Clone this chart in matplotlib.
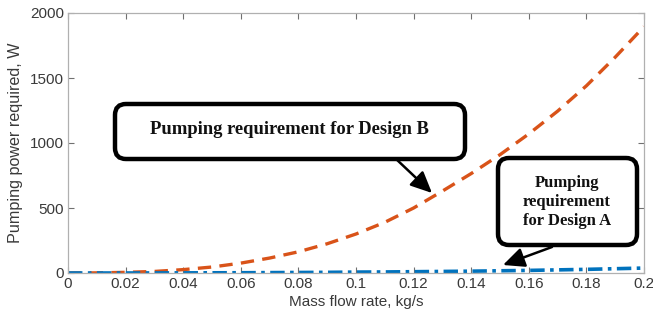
import matplotlib.pyplot as plt
from matplotlib.patches import FancyBboxPatch
from matplotlib.transforms import IdentityTransform

# data
mass_flow = [0.00, 0.01, 0.02, 0.03, 0.04, 0.05, 0.06, 0.07, 0.08, 0.09, 0.10,
             0.11, 0.12, 0.13, 0.14, 0.15, 0.16, 0.17, 0.18, 0.19, 0.20]
power_b = [0, 1, 5, 12, 26, 46, 76, 115, 163, 225, 300,
           390, 500, 630, 765, 910, 1070, 1245, 1440, 1660, 1895]
power_a = [0, 0, 0, 0.5, 1, 1.5, 2, 3, 4, 5, 7,
           8, 10, 12, 14, 17, 20, 24, 28, 33, 38]

W, H = 653, 324
fig = plt.figure(figsize=(W / 100, H / 100), dpi=100)
ax = fig.add_axes([68 / W, 1 - 273 / H, (644 - 68) / W, (273 - 13) / H])

ax.plot(mass_flow, power_b, color="#D95319", lw=2.4, ls=(0, (4, 2.5)))
ax.plot(mass_flow, power_a, color="#0072BD", lw=2.6, ls=(0, (4, 1.5, 1, 1.5)))

ax.set_xlim(0, 0.2)
ax.set_ylim(0, 2000)
ax.set_xticks([0, 0.02, 0.04, 0.06, 0.08, 0.1, 0.12, 0.14, 0.16, 0.18, 0.2])
ax.set_xticklabels(["0", "0.02", "0.04", "0.06", "0.08", "0.1", "0.12", "0.14",
                    "0.16", "0.18", "0.2"])
ax.set_yticks([0, 500, 1000, 1500, 2000])
for s in ax.spines.values():
    s.set_color("#b0b0b0")
    s.set_linewidth(0.9)
ax.tick_params(direction="in", length=4, color="#707070", labelcolor="#3a3a3a",
               labelsize=11, top=True, right=True, pad=3)
for lab in ax.get_xticklabels() + ax.get_yticklabels():
    lab.set_family("Liberation Sans")
ax.set_xlabel("Mass flow rate, kg/s", fontsize=11, color="#3a3a3a",
              family="Liberation Sans", labelpad=3)
ax.set_ylabel("Pumping power required, W", fontsize=11.6, color="#3a3a3a",
              family="Liberation Sans", labelpad=5)


# callout boxes, in image pixels (y measured from top)
def box(x0, y0, x1, y1):
    p = FancyBboxPatch((x0, H - y1), x1 - x0, y1 - y0,
                       boxstyle="round,pad=0,rounding_size=11",
                       transform=IdentityTransform(), fc="white", ec="black",
                       lw=3.2, zorder=5)
    fig.patches.append(p)


def arrow(x0, y0, x1, y1):
    ax.annotate("", xy=(x1, H - y1), xytext=(x0, H - y0),
                xycoords="figure pixels", textcoords="figure pixels",
                arrowprops=dict(arrowstyle="-|>,head_length=1.3,head_width=0.6",
                                color="black", lw=1.8, shrinkA=0, shrinkB=0),
                zorder=6)


box(115, 104, 465, 159)
fig.text(289 / W, 1 - 129 / H, "Pumping requirement for Design B",
         ha="center", va="center", family="Liberation Serif", weight="bold",
         fontsize=13.4, color="#111111", zorder=7)
arrow(395, 158, 432, 193)

box(498, 158, 637, 245)
fig.text(567 / W, 1 - 202 / H, "Pumping\nrequirement\nfor Design A",
         ha="center", va="center", family="Liberation Serif", weight="bold",
         fontsize=12, linespacing=1.25, color="#111111", zorder=7)
arrow(552, 247, 503, 265)

fig.savefig("out.png", dpi=100)
